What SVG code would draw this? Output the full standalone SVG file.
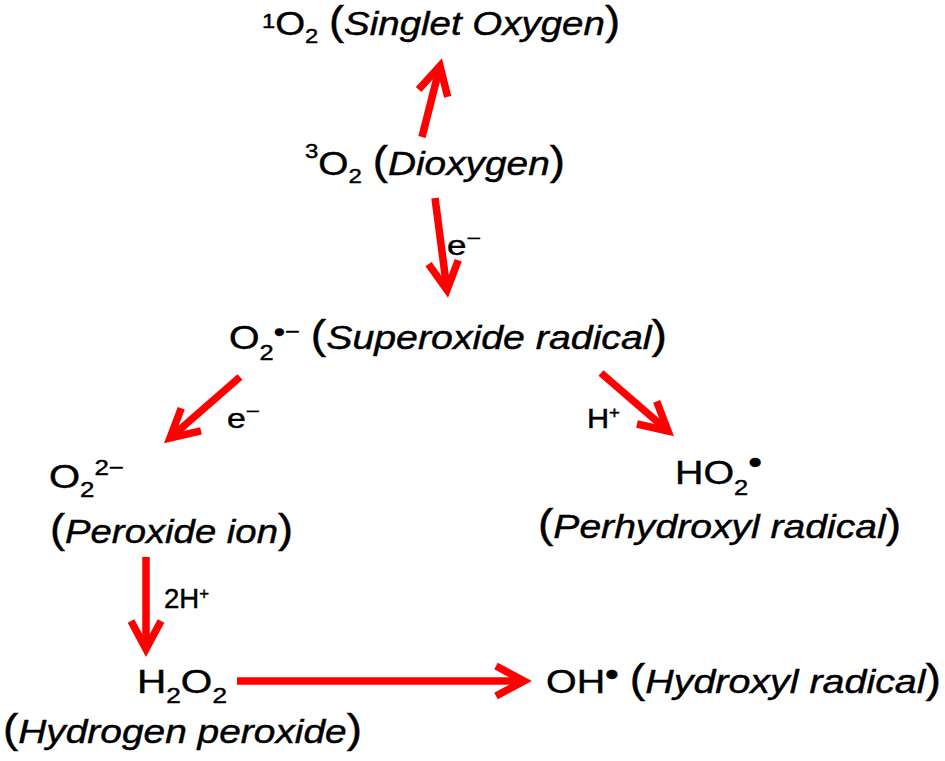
<svg xmlns="http://www.w3.org/2000/svg" width="945" height="761" viewBox="0 0 945 761">
<defs>
<style>
text{font-family:"Liberation Sans",Arial,sans-serif;fill:#000;stroke:#000;stroke-width:0.45px;}
.m{font-size:34px;}
.l{font-size:28px;}
.i{font-style:italic;}
.s{font-size:22px;}
.p{font-size:40px;}
.a{stroke:#ff0000;stroke-width:7.5;fill:none;marker-end:url(#ah);}
</style>
<marker id="ah" markerUnits="userSpaceOnUse" orient="auto" overflow="visible" markerWidth="1" markerHeight="1" refX="0" refY="0">
<path d="M-28,-15 L0,0 L-28,15" fill="none" stroke="#ff0000" stroke-width="7.5"/>
</marker>
</defs>
<rect width="945" height="761" fill="#fff"/>
<g id="connectors">
<line class="a" x1="422" y1="137" x2="440" y2="66"/>
<line class="a" x1="435" y1="198" x2="447" y2="290"/>
<line class="a" x1="240" y1="377" x2="170" y2="438"/>
<line class="a" x1="601" y1="373" x2="668" y2="431"/>
<line class="a" x1="146" y1="557" x2="146" y2="649"/>
<line class="a" x1="237" y1="681" x2="524" y2="681"/>
<text class="l" x="447" y="255" textLength="34" lengthAdjust="spacingAndGlyphs">e<tspan font-size="20" y="245">−</tspan></text>
<text class="l" x="227" y="428" textLength="33" lengthAdjust="spacingAndGlyphs">e<tspan font-size="20" y="418">−</tspan></text>
<text class="l" x="587" y="428" textLength="33" lengthAdjust="spacingAndGlyphs">H<tspan font-size="17" y="418">+</tspan></text>
<text class="l" x="164" y="608" textLength="45" lengthAdjust="spacingAndGlyphs">2H<tspan font-size="17" y="599">+</tspan></text>
</g>
<g id="singlet">
<text class="m" font-size="32" x="262" y="35" textLength="358" lengthAdjust="spacingAndGlyphs"><tspan font-size="21" y="28">1</tspan><tspan y="35">O</tspan><tspan font-size="21" y="43">2</tspan><tspan y="35"> </tspan><tspan class="p">(</tspan><tspan class="i">Singlet Oxygen</tspan><tspan class="p">)</tspan></text>
</g>
<g id="dioxygen">
<text class="m" font-size="32" x="305" y="175" textLength="260" lengthAdjust="spacingAndGlyphs"><tspan font-size="21" y="158">3</tspan><tspan y="175">O</tspan><tspan font-size="21" y="183">2</tspan><tspan y="175"> </tspan><tspan class="p">(</tspan><tspan class="i">Dioxygen</tspan><tspan class="p">)</tspan></text>
</g>
<g id="superoxide">
<text class="m" x="229" y="349" textLength="438" lengthAdjust="spacingAndGlyphs">O<tspan class="s" y="360">2</tspan><tspan font-size="28" y="341">•</tspan><tspan class="s" y="339">−</tspan><tspan y="349"> </tspan><tspan class="p">(</tspan><tspan class="i">Superoxide radical</tspan><tspan class="p">)</tspan></text>
</g>
<g id="peroxide">
<text class="m" x="49" y="488" textLength="75" lengthAdjust="spacingAndGlyphs">O<tspan class="s" y="497">2</tspan><tspan class="s" y="475">2−</tspan></text>
<text class="m" x="50" y="543" textLength="243" lengthAdjust="spacingAndGlyphs"><tspan class="p">(</tspan><tspan class="i">Peroxide ion</tspan><tspan class="p">)</tspan></text>
</g>
<g id="perhydroxyl">
<text class="m" x="675" y="484" textLength="87" lengthAdjust="spacingAndGlyphs">HO<tspan class="s" y="495">2</tspan><tspan y="474">•</tspan></text>
<text class="m" x="538" y="538" textLength="363" lengthAdjust="spacingAndGlyphs"><tspan class="p">(</tspan><tspan class="i">Perhydroxyl radical</tspan><tspan class="p">)</tspan></text>
</g>
<g id="hydrogen-peroxide">
<text class="m" font-size="36" x="137" y="693" textLength="90" lengthAdjust="spacingAndGlyphs">H<tspan class="s" y="703">2</tspan><tspan y="693">O</tspan><tspan class="s" y="703">2</tspan></text>
<text class="m" x="3" y="743" textLength="359" lengthAdjust="spacingAndGlyphs"><tspan class="p">(</tspan><tspan class="i">Hydrogen peroxide</tspan><tspan class="p">)</tspan></text>
</g>
<g id="hydroxyl">
<text class="m" x="546" y="693" textLength="395" lengthAdjust="spacingAndGlyphs">OH<tspan y="686">•</tspan><tspan y="693"> </tspan><tspan class="p">(</tspan><tspan class="i">Hydroxyl radical</tspan><tspan class="p">)</tspan></text>
</g>
</svg>
